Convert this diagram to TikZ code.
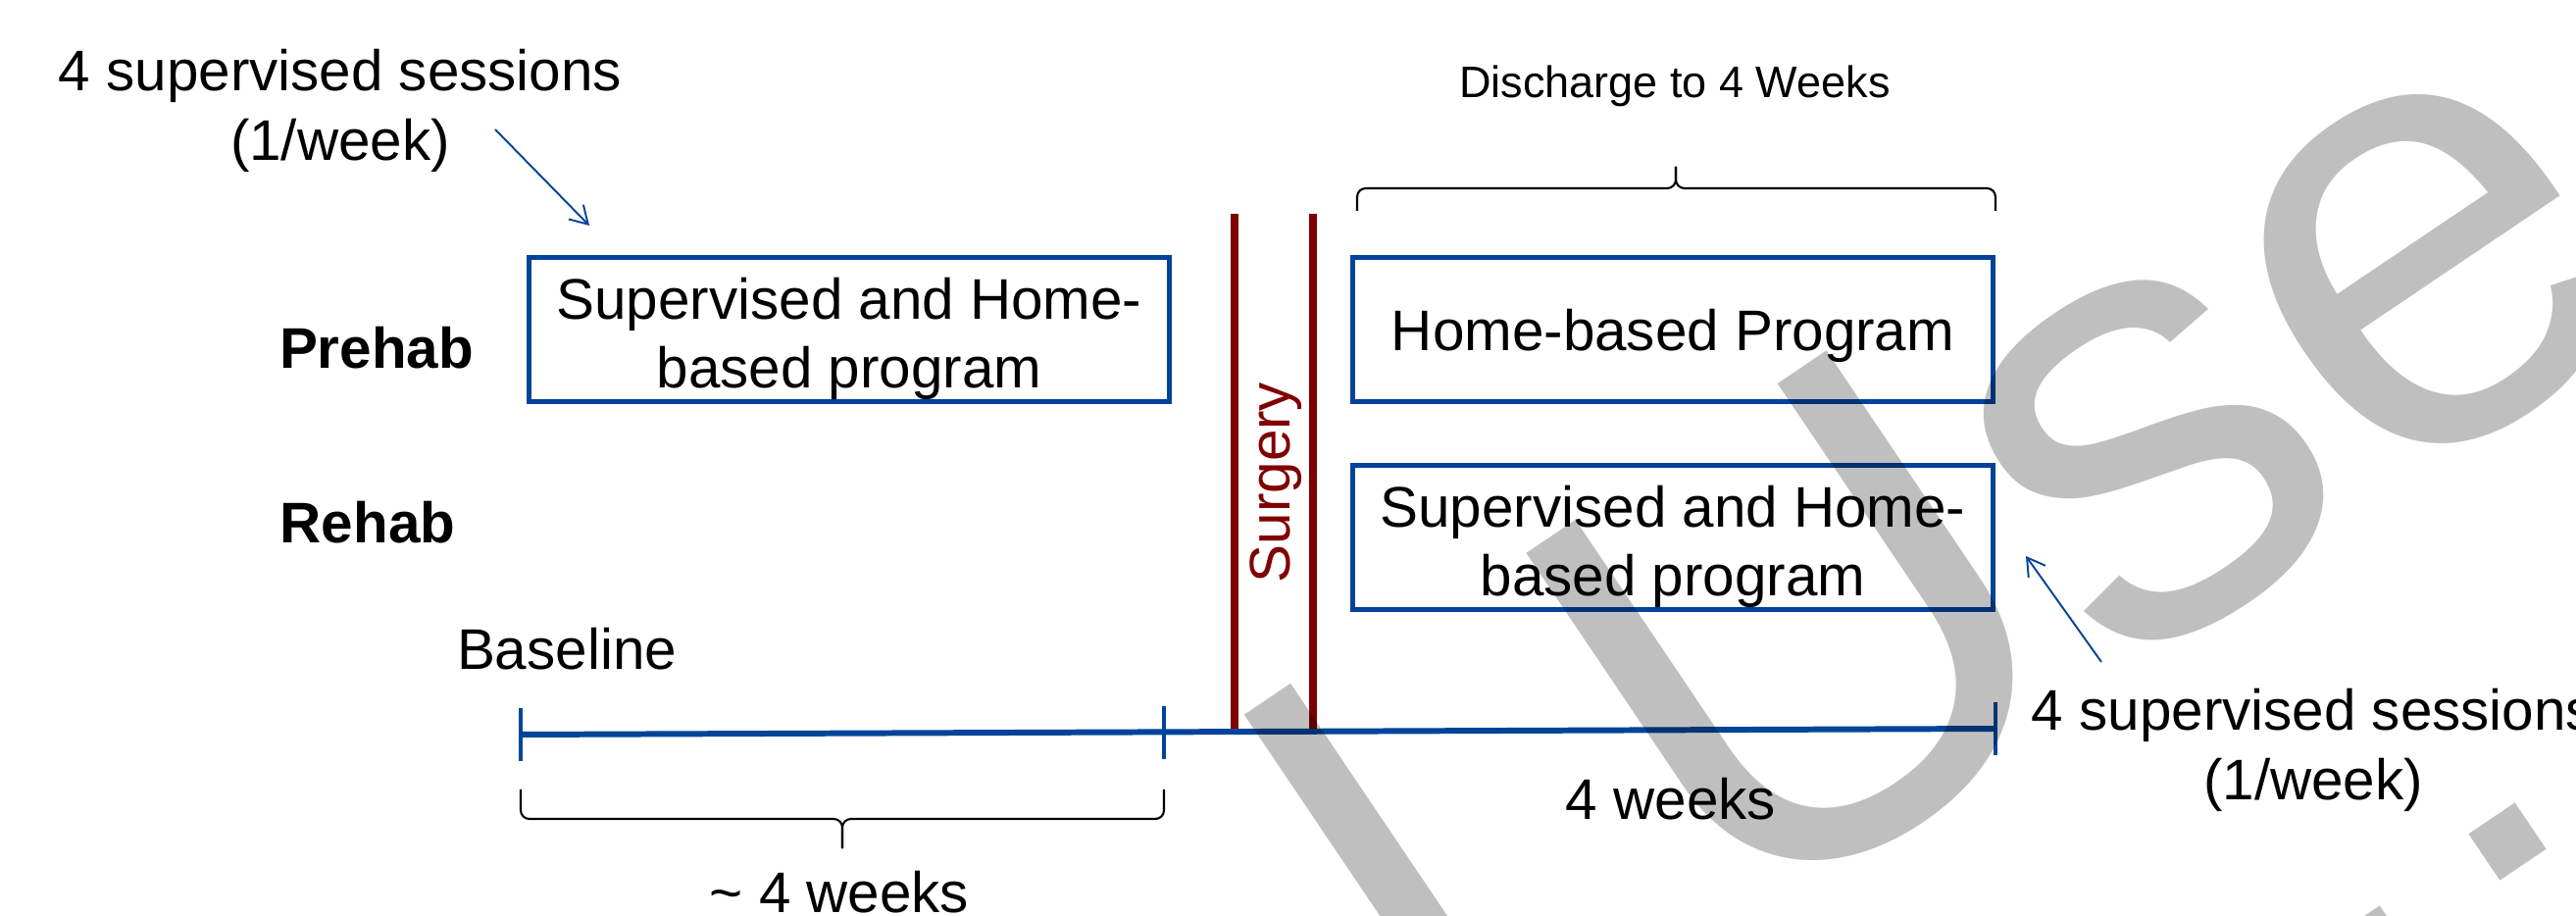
\documentclass[tikz,border=0pt]{standalone}
\usepackage{fontspec}
\setmainfont{Liberation Sans}
\usetikzlibrary{arrows.meta, positioning}
\definecolor{navy}{HTML}{00449A}
\definecolor{maroon}{HTML}{800000}

\begin{document}
\begin{tikzpicture}[
    x=0.01cm, y=-0.01cm,
    >={Straight Barb[length=5pt, width=6pt]},
    txt/.style={
        inner sep=0pt,
        align=center,
        font=\fontsize{16.6pt}{20pt}\selectfont
    },
    rowlabel/.style={
        txt,
        font=\fontsize{16.6pt}{20pt}\selectfont\bfseries
    },
    prog/.style={
        draw=navy,
        line width=1.42pt,
        minimum width=6.53cm,
        minimum height=1.46cm,
        inner sep=0pt,
        align=center,
        text depth=0pt,
        font=\fontsize{16.6pt}{20pt}\selectfont
    },
    twoline/.style={text height=1.19cm},
    cut/.style={draw=maroon, line width=2.2pt},
    axis/.style={draw=navy, line width=1.7pt},
    tick/.style={draw=navy, line width=1.15pt},
    pointer/.style={draw=navy, line width=0.55pt, ->},
    bracket/.style={draw=black, line width=0.6pt, rounded corners=2.5pt},
    wmark/.style={
        text=black,
        text opacity=0.25,
        inner sep=0pt,
        font=\fontsize{185pt}{222pt}\selectfont
    },
    tittle/.style={
        fill=black,
        fill opacity=0.25,
        inner sep=0pt,
        minimum size=0.57cm,
        rotate=34
    }
]

\useasboundingbox (0,0) rectangle (2627,934);
\clip (0,0) rectangle (2627,934);

% Row labels
\node[rowlabel, anchor=base] (pre) at (384,376) {Prehab};
\node[rowlabel, anchor=base] (re) at (375,554) {Rehab};

% Programme boxes
\node[prog, twoline] (preprog) at (866,336) {Supervised and Home-\\based program};
\node[prog] (homeprog) at (1706,336) {Home-based Program};
\node[prog, twoline] (reprog) at (1706,548) {Supervised and Home-\\based program};

% Surgery
\draw[cut] (1259,218) -- (1259,745);
\draw[cut] (1339,218) -- (1339,744);
\node[txt, text=maroon, rotate=90, anchor=base] (surg) at (1315,492) {Surgery};

% Timeline
\coordinate (t0) at (531,749);
\coordinate (t1) at (1187,747.5);
\coordinate (t2) at (2035,743);
\draw[axis] (t0) -- (t2);
\foreach \t in {t0,t1,t2}
    \draw[tick] (\t) ++(0,-27) -- ++(0,54);

\node[txt, anchor=base] (base) at (578,683) {Baseline};
\node[txt, anchor=base] (wkpre) at (856,930) {\textasciitilde\ 4 weeks};
\node[txt, anchor=base] (wkpost) at (1704,835) {4 weeks};

% Braces
\draw[bracket] (531,805) |- (859,835) -- (859,865);
\draw[bracket] (1187,805) |- (859,835) -- (859,865);
\draw[bracket] (1384,215) |- (1709,192) -- (1709,170);
\draw[bracket] (2035,215) |- (1709,192) -- (1709,170);
\node[txt, anchor=base, font=\fontsize{12.8pt}{15pt}\selectfont] (dis) at (1708,100) {Discharge to 4 Weeks};

% Session notes
\node[txt] (noteL) at (347,113) {4 supervised sessions\\(1/week)};
\node[txt] (noteR) at (2359,765) {4 supervised sessions\\(1/week)};
\coordinate (aL0) at (505,132);
\coordinate (aL1) at (601,230);
\draw[pointer] (aL0) -- (aL1);
\coordinate (aR0) at (2143,675);
\coordinate (aR1) at (2066,567);
\draw[pointer] (aR0) -- (aR1);

% Watermark
\node[wmark, rotate=34, anchor=base west] (wm) at (1496,1145) {l Use};
\node[tittle] (dot1) at (2557,858) {};
\node[tittle] (dot2) at (2419,963) {};

\end{tikzpicture}
\end{document}
